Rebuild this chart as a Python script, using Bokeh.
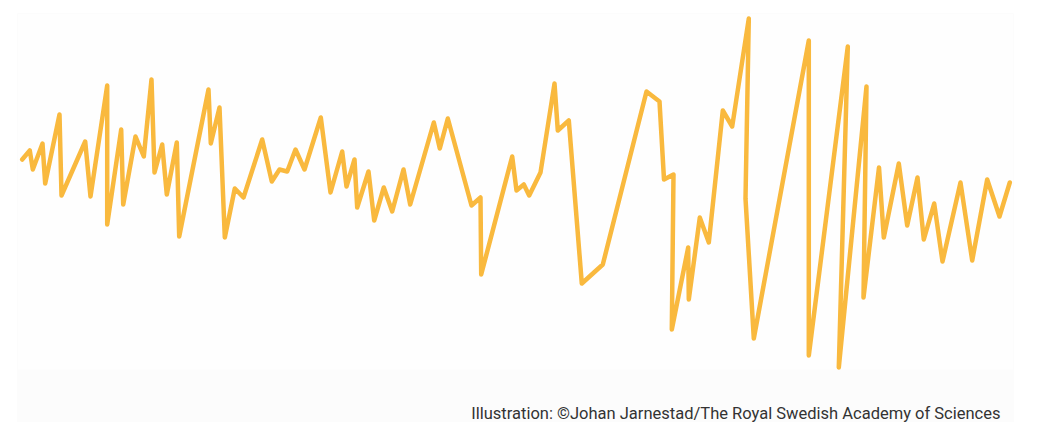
from bokeh.plotting import figure
from bokeh.models import Range1d, Label, BoxAnnotation
from bokeh.embed import file_html
from bokeh.resources import INLINE

# time positions (horizontal) and signal amplitude
t = [21.7, 29.3, 32.3, 42.0, 44.7, 59.0, 61.0, 84.7, 90.0, 106.7,
     106.7, 120.7, 122.7, 135.0, 143.3, 151.0, 154.0, 161.7, 166.3, 176.3,
     178.7, 208.0, 210.3, 219.0, 224.3, 234.3, 243.0, 261.7, 271.3, 279.0,
     286.7, 295.0, 304.0, 320.3, 330.0, 341.7, 346.0, 354.0, 356.7, 368.0,
     373.7, 383.3, 391.7, 403.0, 409.7, 433.3, 439.3, 447.3, 471.0, 480.0,
     480.7, 511.7, 516.0, 523.3, 528.7, 540.0, 554.0, 557.3, 568.3, 581.3,
     602.3, 646.0, 659.0, 663.5, 673.0, 671.3, 687.7, 688.3, 699.3, 708.3,
     722.3, 731.7, 748.3, 745.0, 753.3, 808.3, 808.3, 847.3, 838.3, 866.0,
     863.0, 878.5, 883.3, 898.3, 906.7, 917.0, 923.3, 933.7, 942.0, 960.0,
     971.7, 986.7, 999.0, 1009.3]
amplitude = [41, 50, 31, 57, 17, 86, 5, 59, 4, 115,
             -24, 71, -4, 64, 44, 121, 28, 56, 6, 58,
             -36, 111, 57, 93, -37, 12, 3, 61, 19, 31,
             29, 51, 31, 83, 8, 49, 14, 41, -7, 29,
             -20, 13, -11, 31, -4, 78, 52, 82, -5, 3,
             -74, 44, 10, 16, 5, 28, 117, 70, 80, -83,
             -64, 109, 99, 21, 26, -129, -47, -99, -17, -42,
             90, 74, 182, 2, -138, 160, -155, 154, -167, 114,
             -97, 33, -37, 37, -25, 23, -39, -3, -61, 18,
             -60, 21, -16, 18]

credit = "Illustration: \u00a9Johan Jarnestad/The Royal Swedish Academy of Sciences"

p = figure(width=1034, height=422, output_backend="svg", toolbar_location=None,
           x_range=Range1d(0, 1034), y_range=Range1d(-222, 200),
           min_border=0, background_fill_color="white", border_fill_color="white")
p.axis.visible = False
p.grid.visible = False
p.outline_line_color = None

p.add_layout(BoxAnnotation(left=17, right=1013, bottom=-222, top=187,
                           fill_color="#fefefe", fill_alpha=1,
                           line_color="#f8f8f8", line_width=1, level="underlay"))
p.add_layout(BoxAnnotation(left=17, right=1013, bottom=-222, top=-169,
                           fill_color="#fcfcfc", fill_alpha=1,
                           line_color=None, level="underlay"))

p.line(t, amplitude, line_color="#F9B93E", line_width=4.5, line_join="round", line_cap="round")

p.add_layout(Label(x=1000, y=-213, text=credit, text_align="right",
                   text_baseline="alphabetic", text_font="Roboto",
                   text_font_size="16.5px", text_color="#333333"))

open("out.html", "w").write(file_html(p, INLINE))
